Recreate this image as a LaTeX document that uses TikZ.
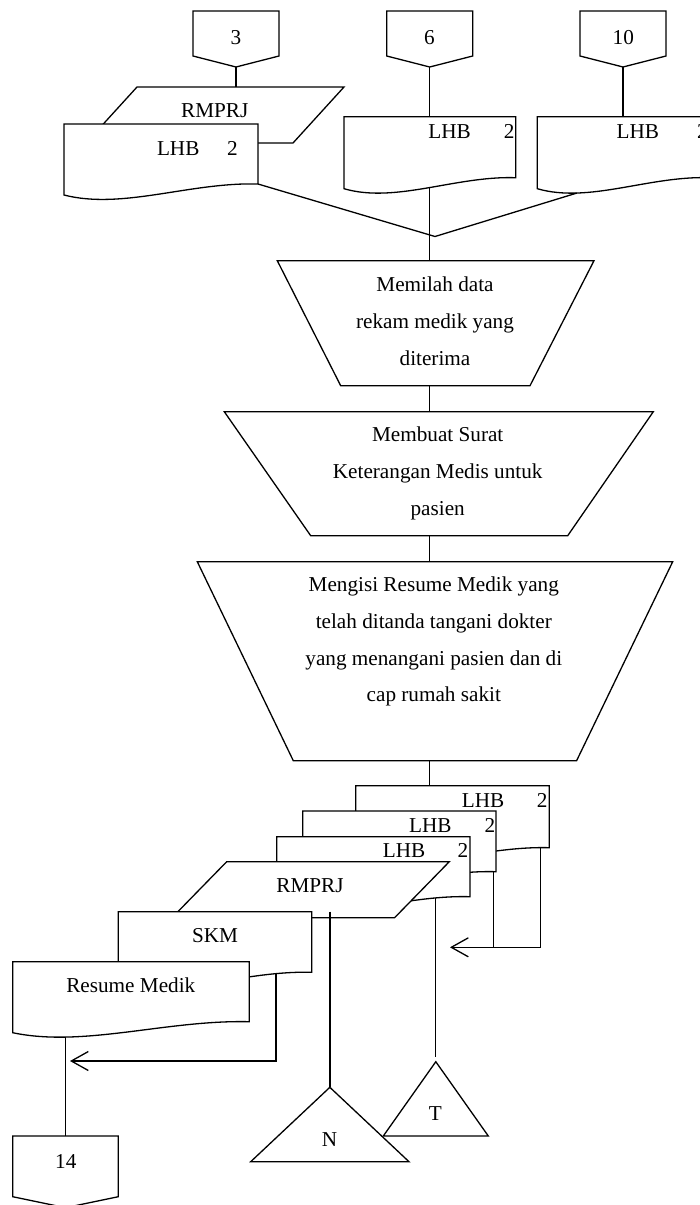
\documentclass[tikz,border=0pt]{standalone}
\usepackage{fontspec}
\setmainfont{Liberation Serif}
\usetikzlibrary{calc,arrows.meta}

\tikzset{
  outline/.style={draw=black, line width=1.3pt, fill=white, line join=miter},
  link/.style={draw=black, line width=1.3pt},
  holder/.style={rectangle, inner sep=0pt, outer sep=0pt, anchor=north west},
  lbl/.style={inner sep=0pt, anchor=base, font=\fontsize{21.2pt}{36.7pt}\selectfont},
  block/.style={lbl, align=center},
  barb/.style={-{Straight Barb[length=17pt,width=19pt]}},
}

% document symbol: straight top and sides, wavy bottom edge
\newcommand\DocShape[1]{%
  \path[outline] (#1.north west) -- (#1.north east) -- (#1.south east)
    .. controls ($(#1.south west)!0.65!(#1.south east)+(0,-2)$)
           and ($(#1.south west)!0.3!(#1.south east)+(0,26)$)
    .. ($(#1.south west)+(0,11)$) -- cycle;}
% data symbol: parallelogram leaning right
\newcommand\IoShape[2]{%
  \path[outline] (#1.north west) -- (#1.north east)
    -- ($(#1.south east)+(-#2,0)$) -- ($(#1.south west)+(-#2,0)$) -- cycle;}
% manual operation: trapezoid, wide side on top
\newcommand\OpShape[3]{%
  \path[outline] (#1.north west) -- (#1.north east)
    -- ($(#1.south east)+(-#3,0)$) -- ($(#1.south west)+(#2,0)$) -- cycle;}
% off-page connector: box with pointed bottom
\newcommand\PageShape[2]{%
  \path[outline] (#1.north west) -- (#1.north east) -- (#1.south east)
    -- ($(#1.south)+(0,#2)$) -- (#1.south west) -- cycle;}
% archive symbol: triangle
\newcommand\TriShape[1]{%
  \path[outline] (#1.south west) -- (#1.north) -- (#1.south east) -- cycle;}

\begin{document}
\begin{tikzpicture}[x=1pt,y=-1pt]
\useasboundingbox (0,0) rectangle (700,1205);
\clip (0,0) rectangle (700,1205);

% ---------- incoming connectors and documents ----------
\node[holder, minimum width=86pt, minimum height=45pt] (c3) at (193,11) {};
\PageShape{c3}{11}
\node[lbl] (c3t) at (236,44) {3};
\node[holder, minimum width=86pt, minimum height=45pt] (c6) at (386.7,11) {};
\PageShape{c6}{11}
\node[lbl] (c6t) at (429.3,44) {6};
\node[holder, minimum width=86pt, minimum height=45pt] (c10) at (580,11) {};
\PageShape{c10}{11}
\node[lbl] (c10t) at (623.3,44) {10};

\node[holder, minimum width=207pt, minimum height=56pt] (pr1) at (137,87) {};
\IoShape{pr1}{51}
\node[lbl] (pr1t) at (214.7,117.3) {RMPRJ};

\node[holder, minimum width=194pt, minimum height=60pt] (d1) at (64,124) {};
\DocShape{d1}
\node[lbl] (d1a) at (178.2,155) {LHB};
\node[lbl] (d1b) at (232.5,155) {2};

\node[holder, minimum width=171.7pt, minimum height=61pt] (d6) at (344,116.7) {};
\DocShape{d6}
\node[lbl] (d6a) at (449.5,138.3) {LHB};
\node[lbl] (d6b) at (509.2,138.3) {2};

\node[holder, minimum width=171.7pt, minimum height=61pt] (d10) at (537.3,116.7) {};
\DocShape{d10}
\node[lbl] (d10a) at (637.8,138.3) {LHB};
\node[lbl] (d10b) at (702.5,138.3) {2};

% ---------- manual operations (text anchored on its last baseline) ----------
\node[holder, minimum width=316.7pt, minimum height=125pt] (t1) at (277.3,260.7) {};
\OpShape{t1}{63.4}{64}
\node[block] (t1t) at (435,365) {Memilah data\\rekam medik yang\\diterima};

\node[holder, minimum width=429pt, minimum height=124pt] (t2) at (224.3,411.7) {};
\OpShape{t2}{86.4}{85.6}
\node[block] (t2t) at (437.7,515) {Membuat Surat\\Keterangan Medis untuk\\pasien};

\node[holder, minimum width=475.4pt, minimum height=199pt] (t3) at (197.3,561.7) {};
\OpShape{t3}{96}{96.1}
\node[block] (t3t) at (433.8,701.7) {Mengisi Resume Medik yang\\telah ditanda tangani dokter\\yang menangani pasien dan di\\cap rumah sakit};

% ---------- outgoing document stack ----------
\node[holder, minimum width=193.6pt, minimum height=62pt] (dA) at (355.7,785.7) {};
\DocShape{dA}
\node[lbl] (dAa) at (483,807.3) {LHB};
\node[lbl] (dAb) at (542.2,807.3) {2};

\node[holder, minimum width=193.3pt, minimum height=60.7pt] (dB) at (302.7,811) {};
\DocShape{dB}
\node[lbl] (dBa) at (430.3,832.7) {LHB};
\node[lbl] (dBb) at (489.8,832.7) {2};

\node[holder, minimum width=193.3pt, minimum height=60pt] (dC) at (276.7,836.7) {};
\DocShape{dC}
\node[lbl] (dCa) at (404,857.3) {LHB};
\node[lbl] (dCb) at (463,857.3) {2};

\node[holder, minimum width=222.6pt, minimum height=56pt] (pr2) at (226.7,861.7) {};
\IoShape{pr2}{54.7}
\node[lbl] (pr2t) at (310,892.7) {RMPRJ};

\node[holder, minimum width=193.4pt, minimum height=60.6pt] (skm) at (118.3,911.7) {};
\DocShape{skm}
\node[lbl] (skmt) at (215,942.7) {SKM};

\node[holder, minimum width=236.6pt, minimum height=60pt] (rm) at (12.7,961.7) {};
\DocShape{rm}
\node[lbl] (rmt) at (130.8,992.7) {Resume Medik};

% ---------- terminals ----------
\node[holder, minimum width=105.6pt, minimum height=60.7pt] (c14) at (12.7,1136) {};
\PageShape{c14}{11}
\node[lbl] (c14t) at (65.8,1168.3) {14};

\node[holder, minimum width=158.3pt, minimum height=74.4pt] (tN) at (250.7,1087.3) {};
\TriShape{tN}
\node[lbl] (tNt) at (329.5,1146.7) {N};

\node[holder, minimum width=105pt, minimum height=74.3pt] (tT) at (383.3,1061.7) {};
\TriShape{tT}
\node[lbl] (tTt) at (435.3,1120.7) {T};

% ---------- connector points ----------
\coordinate (c3tip) at ($(c3.south)+(0,11)$);
\coordinate (c6tip) at ($(c6.south)+(0,11)$);
\coordinate (c10tip) at ($(c10.south)+(0,11)$);
\coordinate (d6x) at ($(d6.south west)!0.497!(d6.south east)+(0,9.9)$);
\coordinate (d10x) at ($(d10.south west)!0.2295!(d10.south east)+(0,15.4)$);
\coordinate (merge) at (435,236.5);
\coordinate (dAx) at ($(dA.south west)!0.956!(dA.south east)+(0,0.3)$);
\coordinate (dBx) at ($(dB.south west)!0.986!(dB.south east)$);
\coordinate (dCx) at ($(dC.south west)!0.8215!(dC.south east)+(0,1.2)$);
\coordinate (skmx) at ($(skm.south west)!0.815!(skm.south east)+(0,1.3)$);
\coordinate (rmx) at ($(rm.south west)!0.224!(rm.south east)+(0,15.3)$);
\coordinate (a1) at (70,1061);
\coordinate (a2) at (450,947.3);

% ---------- connectors ----------
\draw[link] (c3tip) -- (c3tip |- pr1.north);
\draw[link] (c6tip) -- (c6tip |- d6.north);
\draw[link] (c10tip) -- (c10tip |- d10.north);
\draw[link] (d1.south east) -- (merge) -- (d10x);
\draw[link] (d6x) -- (d6x |- t1.north);
\draw[link] (t1.south -| d6x) -- (t2.north -| d6x);
\draw[link] (t2.south -| d6x) -- (t3.north -| d6x);
\draw[link] (t3.south -| d6x) -- (dA.north -| d6x);
\draw[link, barb] (dAx) |- (a2);
\draw[link] (dBx) -- (dBx |- a2);
\draw[link, shorten >=5pt] (dCx) -- (dCx |- tT.north);
\draw[link] (tN.north |- skm.north) -- (tN.north);
\draw[link, barb] (skmx) |- (a1);
\draw[link] (rmx) -- (rmx |- c14.north);
\end{tikzpicture}
\end{document}
